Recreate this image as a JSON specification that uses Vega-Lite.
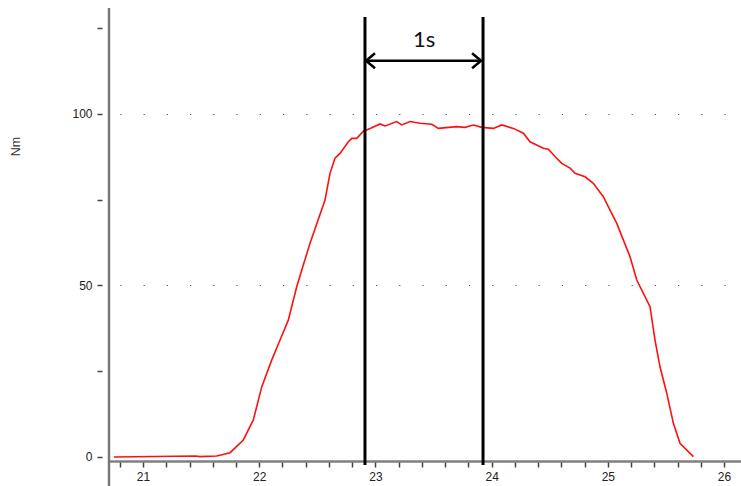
{
  "$schema": "https://vega.github.io/schema/vega-lite/v6.json",
  "autosize": "none",
  "width": 632,
  "height": 453,
  "padding": {"left": 109, "top": 8, "right": 0, "bottom": 25},
  "background": "white",
  "config": {"view": {"stroke": null}, "font": "Liberation Sans"},
  "resolve": {"axis": {"x": "independent"}},
  "datasets": {
    "curve": [
      {"t": 20.75, "v": 0}, {"t": 21.45, "v": 0.3}, {"t": 21.49, "v": 0.1}, {"t": 21.634, "v": 0.3},
      {"t": 21.749, "v": 1.25}, {"t": 21.863, "v": 4.96}, {"t": 21.949, "v": 10.8}, {"t": 22.022, "v": 20.5},
      {"t": 22.108, "v": 28.3}, {"t": 22.179, "v": 34.1}, {"t": 22.25, "v": 39.9}, {"t": 22.323, "v": 49.7},
      {"t": 22.366, "v": 54.5}, {"t": 22.437, "v": 62.3}, {"t": 22.566, "v": 74.9}, {"t": 22.609, "v": 82.7},
      {"t": 22.652, "v": 87.1}, {"t": 22.695, "v": 88.5}, {"t": 22.767, "v": 91.9}, {"t": 22.796, "v": 92.9},
      {"t": 22.839, "v": 92.9}, {"t": 22.896, "v": 95.0}, {"t": 22.954, "v": 95.8}, {"t": 23.04, "v": 97.1},
      {"t": 23.083, "v": 96.5}, {"t": 23.183, "v": 97.8}, {"t": 23.226, "v": 96.8}, {"t": 23.298, "v": 97.8},
      {"t": 23.384, "v": 97.3}, {"t": 23.485, "v": 97.0}, {"t": 23.542, "v": 95.8}, {"t": 23.7, "v": 96.3},
      {"t": 23.771, "v": 96.1}, {"t": 23.843, "v": 96.8}, {"t": 23.915, "v": 96.1}, {"t": 24.015, "v": 95.8},
      {"t": 24.087, "v": 96.8}, {"t": 24.187, "v": 95.8}, {"t": 24.273, "v": 94.4}, {"t": 24.33, "v": 91.9},
      {"t": 24.445, "v": 90.0}, {"t": 24.488, "v": 89.7}, {"t": 24.56, "v": 87.1}, {"t": 24.603, "v": 85.6},
      {"t": 24.675, "v": 84.2}, {"t": 24.718, "v": 82.7}, {"t": 24.804, "v": 81.7}, {"t": 24.875, "v": 79.8},
      {"t": 24.961, "v": 75.9}, {"t": 25.019, "v": 72.0}, {"t": 25.077, "v": 68.1}, {"t": 25.133, "v": 63.3},
      {"t": 25.191, "v": 58.4}, {"t": 25.249, "v": 51.6}, {"t": 25.306, "v": 47.7}, {"t": 25.363, "v": 43.8},
      {"t": 25.406, "v": 34.1}, {"t": 25.449, "v": 26.3}, {"t": 25.507, "v": 18.6}, {"t": 25.564, "v": 9.8},
      {"t": 25.621, "v": 4.0}, {"t": 25.736, "v": 0.1}
    ],
    "markers": [{"t": 22.91}, {"t": 23.926}],
    "span": [{"start": 22.919, "end": 23.909, "label": "1s", "mid": 23.42}],
    "heads": [{"t": 22.919, "dir": "left"}, {"t": 23.909, "dir": "right"}]
  },
  "layer": [
    {
      "data": {"name": "curve"},
      "mark": {"type": "line", "color": "#ff1010", "strokeWidth": 1.6, "interpolate": "linear"},
      "encoding": {
        "x": {
          "field": "t", "type": "quantitative",
          "scale": {"domain": [20.707, 26.146], "nice": false, "zero": false},
          "axis": {
            "title": null, "orient": "bottom",
            "values": [20.8, 21, 21.2, 21.4, 21.6, 21.8, 22, 22.2, 22.4, 22.6, 22.8, 23, 23.2, 23.4, 23.6, 23.8, 24, 24.2, 24.4, 24.6, 24.8, 25, 25.2, 25.4, 25.6, 25.8, 26],
            "labels": false,
            "grid": false,
            "domainColor": "#808080", "domainWidth": 2.5,
            "tickColor": "#444", "tickWidth": 1.5, "tickSize": 6
          }
        },
        "y": {
          "field": "v", "type": "quantitative",
          "scale": {"domain": [-1.17, 130.9], "nice": false, "zero": false},
          "axis": {
            "title": "Nm", "titleFontSize": 12.5, "titleFontWeight": "normal", "titleColor": "#333",
            "titleX": -80, "titleY": 138,
            "values": [0, 25, 50, 75, 100, 125],
            "labelExpr": "datum.value % 50 === 0 ? datum.label : ''",
            "offset": 7, "domain": false,
            "tickSize": 5, "tickColor": "#444", "tickWidth": 1.5,
            "labelFontSize": 12, "labelColor": "#222", "labelPadding": 5,
            "labelFlush": false,
            "grid": true,
            "gridColor": "#555", "gridWidth": 1.2,
            "gridDash": [1.2, 22.04], "gridDashOffset": 12.44,
            "gridOpacity": {"condition": {"test": "datum.value === 50 || datum.value === 100", "value": 1}, "value": 0}
          }
        }
      }
    },
    {
      "data": {"values": [{"t": 20.707}]},
      "mark": {"type": "rule", "color": "#777", "strokeWidth": 2.5},
      "encoding": {
        "x": {"field": "t", "type": "quantitative", "axis": null},
        "y": {"datum": 130.9},
        "y2": {"datum": -8.6}
      }
    },
    {
      "data": {"name": "markers"},
      "mark": {"type": "rule", "color": "#000", "strokeWidth": 3},
      "encoding": {
        "x": {
          "field": "t", "type": "quantitative",
          "axis": {
            "title": null, "orient": "bottom",
            "values": [21, 22, 23, 24, 25, 26],
            "format": "d",
            "domain": false, "ticks": false, "grid": false,
            "labelFontSize": 12, "labelColor": "#222", "labelPadding": 10,
            "labelFlush": false
          }
        },
        "y": {"datum": 128.3},
        "y2": {"datum": -2.3}
      }
    },
    {
      "data": {"name": "span"},
      "mark": {"type": "rule", "color": "#000", "strokeWidth": 2.5},
      "encoding": {
        "x": {"field": "start", "type": "quantitative", "axis": null},
        "x2": {"field": "end"},
        "y": {"datum": 115.5}
      }
    },
    {
      "data": {"name": "heads"},
      "mark": {"type": "point", "filled": false, "stroke": "#000", "strokeWidth": 2.5, "size": 400, "opacity": 1},
      "encoding": {
        "x": {"field": "t", "type": "quantitative", "axis": null},
        "y": {"datum": 115.5},
        "shape": {
          "field": "dir", "type": "nominal",
          "scale": {"domain": ["left", "right"], "range": ["M 0.9 -0.75 L 0 0 L 0.9 0.75", "M -0.9 -0.75 L 0 0 L -0.9 0.75"]},
          "legend": null
        }
      }
    },
    {
      "data": {"name": "span"},
      "mark": {"type": "text", "font": "Lato", "fontSize": 22, "color": "#111", "baseline": "middle", "align": "center"},
      "encoding": {
        "x": {"field": "mid", "type": "quantitative", "axis": null},
        "y": {"datum": 121.6},
        "text": {"field": "label"}
      }
    }
  ]
}
